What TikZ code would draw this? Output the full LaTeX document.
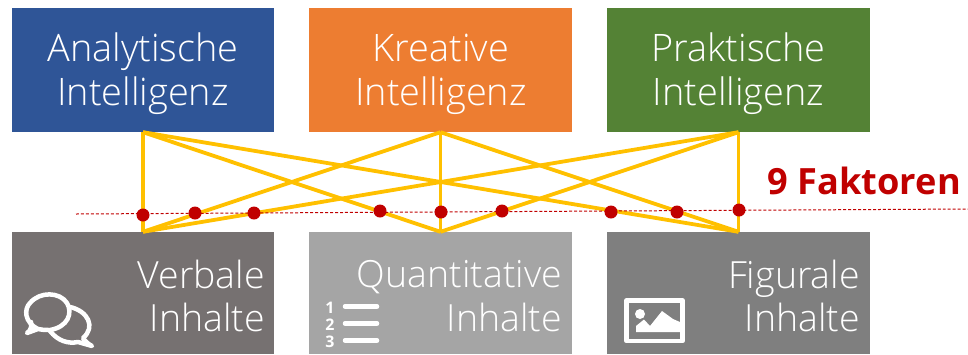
\documentclass[tikz,border=0pt]{standalone}
\usepackage{fontspec}
\setmainfont{Open Sans}
\newfontfamily\lightfont{Open Sans Light}
\definecolor{cblue}{HTML}{2F5597}
\definecolor{corange}{HTML}{ED7D31}
\definecolor{cgreen}{HTML}{548235}
\definecolor{cgreyA}{HTML}{767171}
\definecolor{cgreyB}{HTML}{A5A5A5}
\definecolor{cgreyC}{HTML}{7F7F7F}
\definecolor{cyellow}{HTML}{FFC000}
\definecolor{cred}{HTML}{C00000}
\tikzset{
  topbox/.style={minimum width=262.5bp,minimum height=124bp,inner sep=0pt},
  botbox/.style={minimum width=262.5bp,minimum height=122bp,inner sep=0pt},
  toptext/.style={inner sep=0pt,text=white,align=center,font=\lightfont\fontsize{38}{44}\selectfont},
  bottext/.style={anchor=east,inner sep=0pt,text=white,align=right,font=\lightfont\fontsize{37.6}{44}\selectfont},
  link/.style={draw=cyellow,line width=3.8bp},
  factor/.style={circle,fill=cred,inner sep=0pt,minimum size=13bp},
  icon/.style={draw=white,line width=4.5bp,line join=round,line cap=round},
}
\begin{document}
\begin{tikzpicture}[x=1bp,y=-1bp]
\useasboundingbox (0,0) rectangle (968,354);
% boxes
\node[topbox,fill=cblue] (an) at (143,70) {};
\node[topbox,fill=corange] (kr) at (440.5,70) {};
\node[topbox,fill=cgreen] (pr) at (738.5,70) {};
\node[botbox,fill=cgreyA] (ve) at (143,293) {};
\node[botbox,fill=cgreyB] (qu) at (440.5,293) {};
\node[botbox,fill=cgreyC] (fi) at (738.5,293) {};
% box texts
\node[toptext] (ant) at (143,74) {Analytische\\Intelligenz};
\node[toptext] (krt) at (441,74) {Kreative\\Intelligenz};
\node[toptext] (prt) at (738.5,74) {Praktische\\Intelligenz};
\node[bottext] (vet) at (265,296) {Verbale\\Inhalte};
\node[bottext] (qut) at (562,296) {Quantitative\\Inhalte};
\node[bottext] (fit) at (860,296) {Figurale\\Inhalte};
% connector ends
\coordinate (A) at (an.south);
\coordinate (B) at (kr.south);
\coordinate (C) at (pr.south);
\coordinate (a) at (ve.north);
\coordinate (b) at (qu.north);
\coordinate (c) at (fi.north);
\foreach \s in {A,B,C}{\foreach \t in {a,b,c}{\draw[link,line join=miter] (\s) -- (\t);}}
% factor line
\coordinate (ls) at (76,214);
\coordinate (le) at (968,209);
\draw[cred,line width=1bp,densely dashed] (ls) -- (le);
\foreach \n/\x/\y in {1/143/215,2/195/213,3/254/213,4/380/211,5/441/212,6/502/211,7/611/212,8/677/212,9/739/210}{
  \node[factor] (d\n) at (\x,\y) {};
}
\node[anchor=base east,inner sep=0pt,text=cred,font=\fontsize{36.3}{40}\selectfont\bfseries] (nf) at (961,194) {9 Faktoren};
% speech bubbles icon
\draw[icon] (38,329) .. controls (24,322) and (24,309) .. (30,303)
  .. controls (40,291) and (60,292) .. (67,303)
  .. controls (73,313) and (68,327) .. (50,330)
  .. controls (45,330) and (42,330) .. (38,329) -- (27,333) .. controls (31,331) and (32,325) .. (31,322);
\draw[icon] (70,307) .. controls (88,311) and (96,327) .. (83,338)
  .. controls (85,341) and (88,344) .. (92,346) -- (78,342)
  .. controls (68,344) and (58,341) .. (50,331);
% list icon
\foreach \y/\d in {308/1,325/2,342/3}{
  \node[text=white,inner sep=0pt,font=\fontsize{16}{16}\selectfont\bfseries] (n\d) at (330,\y) {\d};
  \draw[white,line width=4.5bp,line cap=round] (345,\y-1.5) -- (377,\y-1.5);
}
% image icon
\draw[icon] (626.5,300.5) rectangle (682.5,341);
\fill[white] (640,314) circle (5);
\fill[white] (636,332) -- (636,326) -- (644,319.5) -- (650,326) -- (662,311) -- (673,319) -- (680,322) -- (680,332) -- cycle;
\end{tikzpicture}
\end{document}
